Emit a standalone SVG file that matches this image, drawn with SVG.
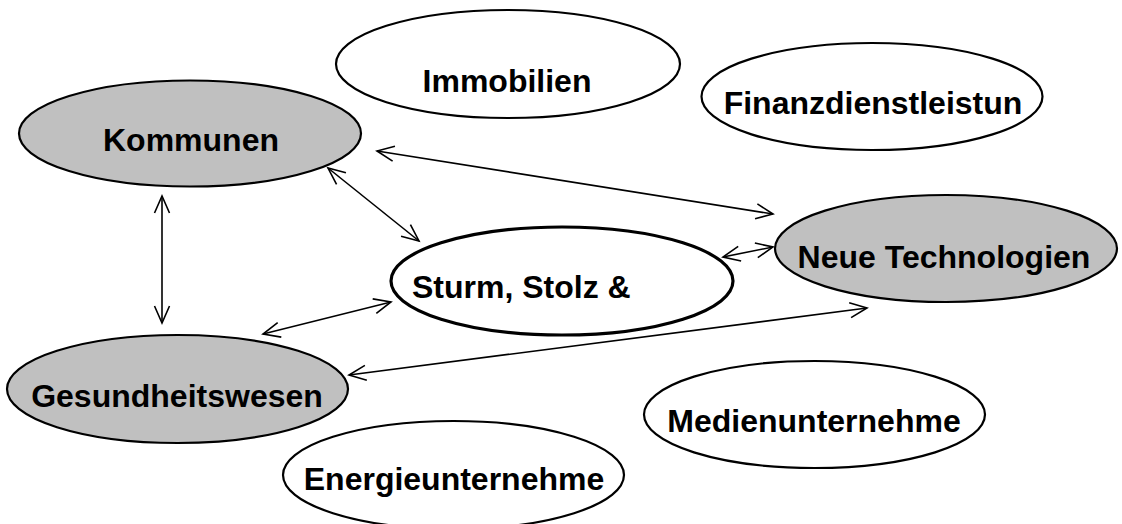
<svg xmlns="http://www.w3.org/2000/svg" width="1122" height="524" viewBox="0 0 1122 524">
<defs>
<style>
.n{stroke:#000;stroke-width:2.2}
.w{fill:#fff}
.g{fill:#c0c0c0}
.t{font-family:"Liberation Sans",Arial,sans-serif;font-weight:bold;font-size:32px;fill:#000;text-anchor:middle}
.c line{stroke:#000;stroke-width:1.6;marker-start:url(#ah);marker-end:url(#ah)}
</style>
<marker id="ah" markerUnits="userSpaceOnUse" markerWidth="24" markerHeight="20" viewBox="0 0 24 20" refX="20" refY="10" orient="auto-start-reverse">
<path d="M3,2.5 L20,10 L3,17.5" fill="none" stroke="#000" stroke-width="1.6"/>
</marker>
</defs>
<rect width="1122" height="524" fill="#fff"/>
<g id="immobilien"><ellipse class="n w" cx="508" cy="64" rx="172" ry="54"/><text class="t" x="507" y="92">Immobilien</text></g>
<g id="finanz"><ellipse class="n w" cx="872" cy="96.5" rx="170.5" ry="53.5"/><text class="t" x="873" y="114">Finanzdienstleistun</text></g>
<g id="kommunen"><ellipse class="n g" cx="190" cy="133.5" rx="171" ry="53"/><text class="t" x="191" y="151">Kommunen</text></g>
<g id="neue"><ellipse class="n g" cx="946" cy="248.5" rx="171" ry="53.5"/><text class="t" x="944" y="268">Neue Technologien</text></g>
<g id="sturm"><ellipse class="w" cx="562" cy="281" rx="171" ry="54" stroke="#000" stroke-width="3.2"/><text class="t" x="412" y="298" style="text-anchor:start">Sturm, Stolz &amp;</text></g>
<g id="gesund"><ellipse class="n g" cx="177.5" cy="389" rx="170.5" ry="54"/><text class="t" x="177" y="407">Gesundheitswesen</text></g>
<g id="medien"><ellipse class="n w" cx="814.5" cy="414.5" rx="170.5" ry="53.5"/><text class="t" x="814" y="432">Medienunternehme</text></g>
<g id="energie"><ellipse class="n w" cx="453.5" cy="475" rx="170.5" ry="54"/><text class="t" x="454" y="490">Energieunternehme</text></g>
<g class="c" id="connectors">
<line x1="377" y1="151" x2="773" y2="214"/>
<line x1="328" y1="168" x2="419" y2="241"/>
<line x1="162" y1="196" x2="162" y2="323"/>
<line x1="263" y1="334" x2="391" y2="302"/>
<line x1="723" y1="257" x2="773" y2="247"/>
<line x1="349" y1="375" x2="867" y2="308"/>
</g>
</svg>
